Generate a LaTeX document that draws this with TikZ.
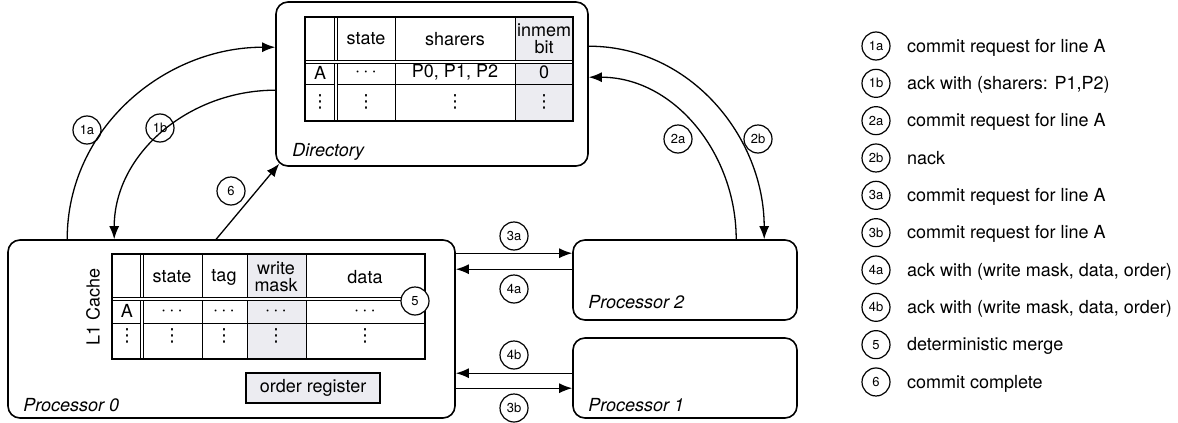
\documentclass[tikz,border=0pt]{standalone}
\usepackage{fontspec}
\setmainfont{TeX Gyre Heros}
\newfontfamily\symfont{DejaVu Sans}
\usetikzlibrary{arrows.meta}
\usetikzlibrary{positioning}
\usetikzlibrary{calc}

\definecolor{cellgray}{RGB}{236,236,241}
\newcommand{\celldots}{{\symfont ⋮}}

\begin{document}
\begin{tikzpicture}[
      x = 0.5pt, y = -0.5pt,
      >={Latex[length=6.5pt, width=5pt]},
      font = \fontsize{9}{10}\selectfont,
      unit/.style = {
        draw, rounded corners = 6pt,
        line width = 0.8pt, inner sep = 0
      },
      unitlabel/.style = { anchor = west, inner sep = 0, font = \fontsize{9}{10}\selectfont\itshape },
      msgtag/.style = {
        circle, draw, line width = 0.6pt,
        minimum size = 14pt, inner sep = 0,
        font = \fontsize{6.5}{7}\selectfont
      },
      msg/.style = { ->, line width = 0.65pt },
      cell/.style = { inner sep = 0, align = center, font = \fontsize{9}{8.5}\selectfont },
      tabline/.style = { line width = 0.5pt },
      dbl/.style = { double, double distance = 0.9pt, line width = 0.4pt },
      keytext/.style = { inner sep = 0, text height = 1.5ex, text depth = 0.3ex },
    ]
    \useasboundingbox (0,0) rectangle (1178,423);

    % boxes
    \node[unit, minimum width = 156pt, minimum height = 82pt] (dir) at (432,84) {};
    \node[unit, minimum width = 223.5pt, minimum height = 89pt] (p0) at (231.5,329) {};
    \node[unit, minimum width = 112pt, minimum height = 40pt] (p2) at (685,280) {};
    \node[unit, minimum width = 112pt, minimum height = 40pt] (p1) at (685,378) {};

    \node[unitlabel] (dirname) at (292,152) {Directory};
    \node[unitlabel] (p0name) at (23,405) {Processor 0};
    \node[unitlabel] (p2name) at (588,302) {Processor 2};
    \node[unitlabel] (p1name) at (588,405) {Processor 1};

    % directory table
    \fill[cellgray] (515,17) rectangle (573,121);
    \foreach \x in {395, 515} {
      \draw[tabline] (\x,17) -- (\x,121);
    }
    \draw[tabline] (305,84) -- (573,84);
    \draw[dbl] (336,17) -- (336,121);
    \draw[dbl] (305,62) -- (573,62);
    \draw[line width = 0.8pt] (305,17) rectangle (573,121);

    \foreach \x/\t [count=\i] in {366/state, 455/sharers, 544/{inmem\\bit}} {
      \node[cell] (dh\i) at (\x,39) {\t};
    }
    \foreach \x/\t [count=\i] in {320/A, 366/$\cdots$, 455/{P0, P1, P2}, 544/0} {
      \node[cell] (da\i) at (\x,72.5) {\t};
    }
    \foreach \x [count=\i] in {320, 366, 455, 544} {
      \node[cell] (dv\i) at (\x,102) {\celldots};
    }

    % cache table
    \fill[cellgray] (247,254) rectangle (306,359);
    \foreach \x in {202, 247, 306} {
      \draw[tabline] (\x,254) -- (\x,359);
    }
    \draw[tabline] (112,323) -- (425,323);
    \draw[dbl] (142,254) -- (142,359);
    \draw[dbl] (112,299) -- (425,299);
    \draw[line width = 0.8pt] (112,254) rectangle (425,359);

    \node[cell, rotate = 90] (l1name) at (93,307) {L1 Cache};
    \foreach \x/\t [count=\i] in {172/state, 224/tag, 276/{write\\mask}, 365/data} {
      \node[cell] (ch\i) at (\x,277) {\t};
    }
    \foreach \x/\t [count=\i] in {127/A, 172/$\cdots$, 224/$\cdots$, 276/$\cdots$, 365/$\cdots$} {
      \node[cell] (ca\i) at (\x,311) {\t};
    }
    \foreach \x [count=\i] in {127, 172, 224, 276, 365} {
      \node[cell] (cv\i) at (\x,336) {\celldots};
    }
    \node[msgtag, fill = white] (c5) at (415,301) {5};

    \node[draw, fill = cellgray, line width = 0.7pt, minimum width = 67pt, minimum height = 15pt, inner sep = 0] (order) at (313,388) {order register};

    % messages
    \draw[msg] ($(p0.north west)+(60,0)$) to[out=90, in=180] ($(dir.north west)+(0,46)$);
    \draw[msg] ($(dir.north west)+(0,89)$) to[out=180, in=90] ($(p0.north west)+(107,0)$);
    \draw[msg] ($(p0.north west)+(209,0)$) -- ($(dir.south west)+(4,-3)$);
    \draw[msg] ($(p2.north west)+(164,0)$) to[out=90, in=0] ($(dir.north east)+(0,76)$);
    \draw[msg] ($(dir.north east)+(0,45)$) to[out=0, in=90] ($(p2.north west)+(192,0)$);
    \draw[msg] ($(p0.north east)+(0,14)$) -- ($(p2.north west)+(0,14)$);
    \draw[msg] ($(p2.north west)+(0,30)$) -- ($(p0.north east)+(0,30)$);
    \draw[msg] ($(p1.north west)+(0,36)$) -- ($(p0.north east)+(0,134)$);
    \draw[msg] ($(p0.north east)+(0,149)$) -- ($(p1.north west)+(0,51)$);

    \foreach \t/\x/\y in {1a/87/130, 1b/160/128, 6/231/191, 2a/678/139, 2b/758/139, 3a/514/236, 4a/514/289, 4b/514/355, 3b/514/408} {
      \node[msgtag] (c\t) at (\x,\y) {\t};
    }

    % legend
    \foreach \t/\d [count=\i] in {1a/commit request for line A, 1b/{ack with (sharers: P1,P2)}, 2a/commit request for line A, 2b/nack, 3a/commit request for line A, 3b/commit request for line A, 4a/{ack with (write mask, data, order)}, 4b/{ack with (write mask, data, order)}, 5/deterministic merge, 6/commit complete} {
      \node[msgtag] (k\i) at (876,{46+37.33*(\i-1)}) {\t};
      \node[keytext, right = 8pt of k\i] (kt\i) {\d};
    }
  \end{tikzpicture}
\end{document}
